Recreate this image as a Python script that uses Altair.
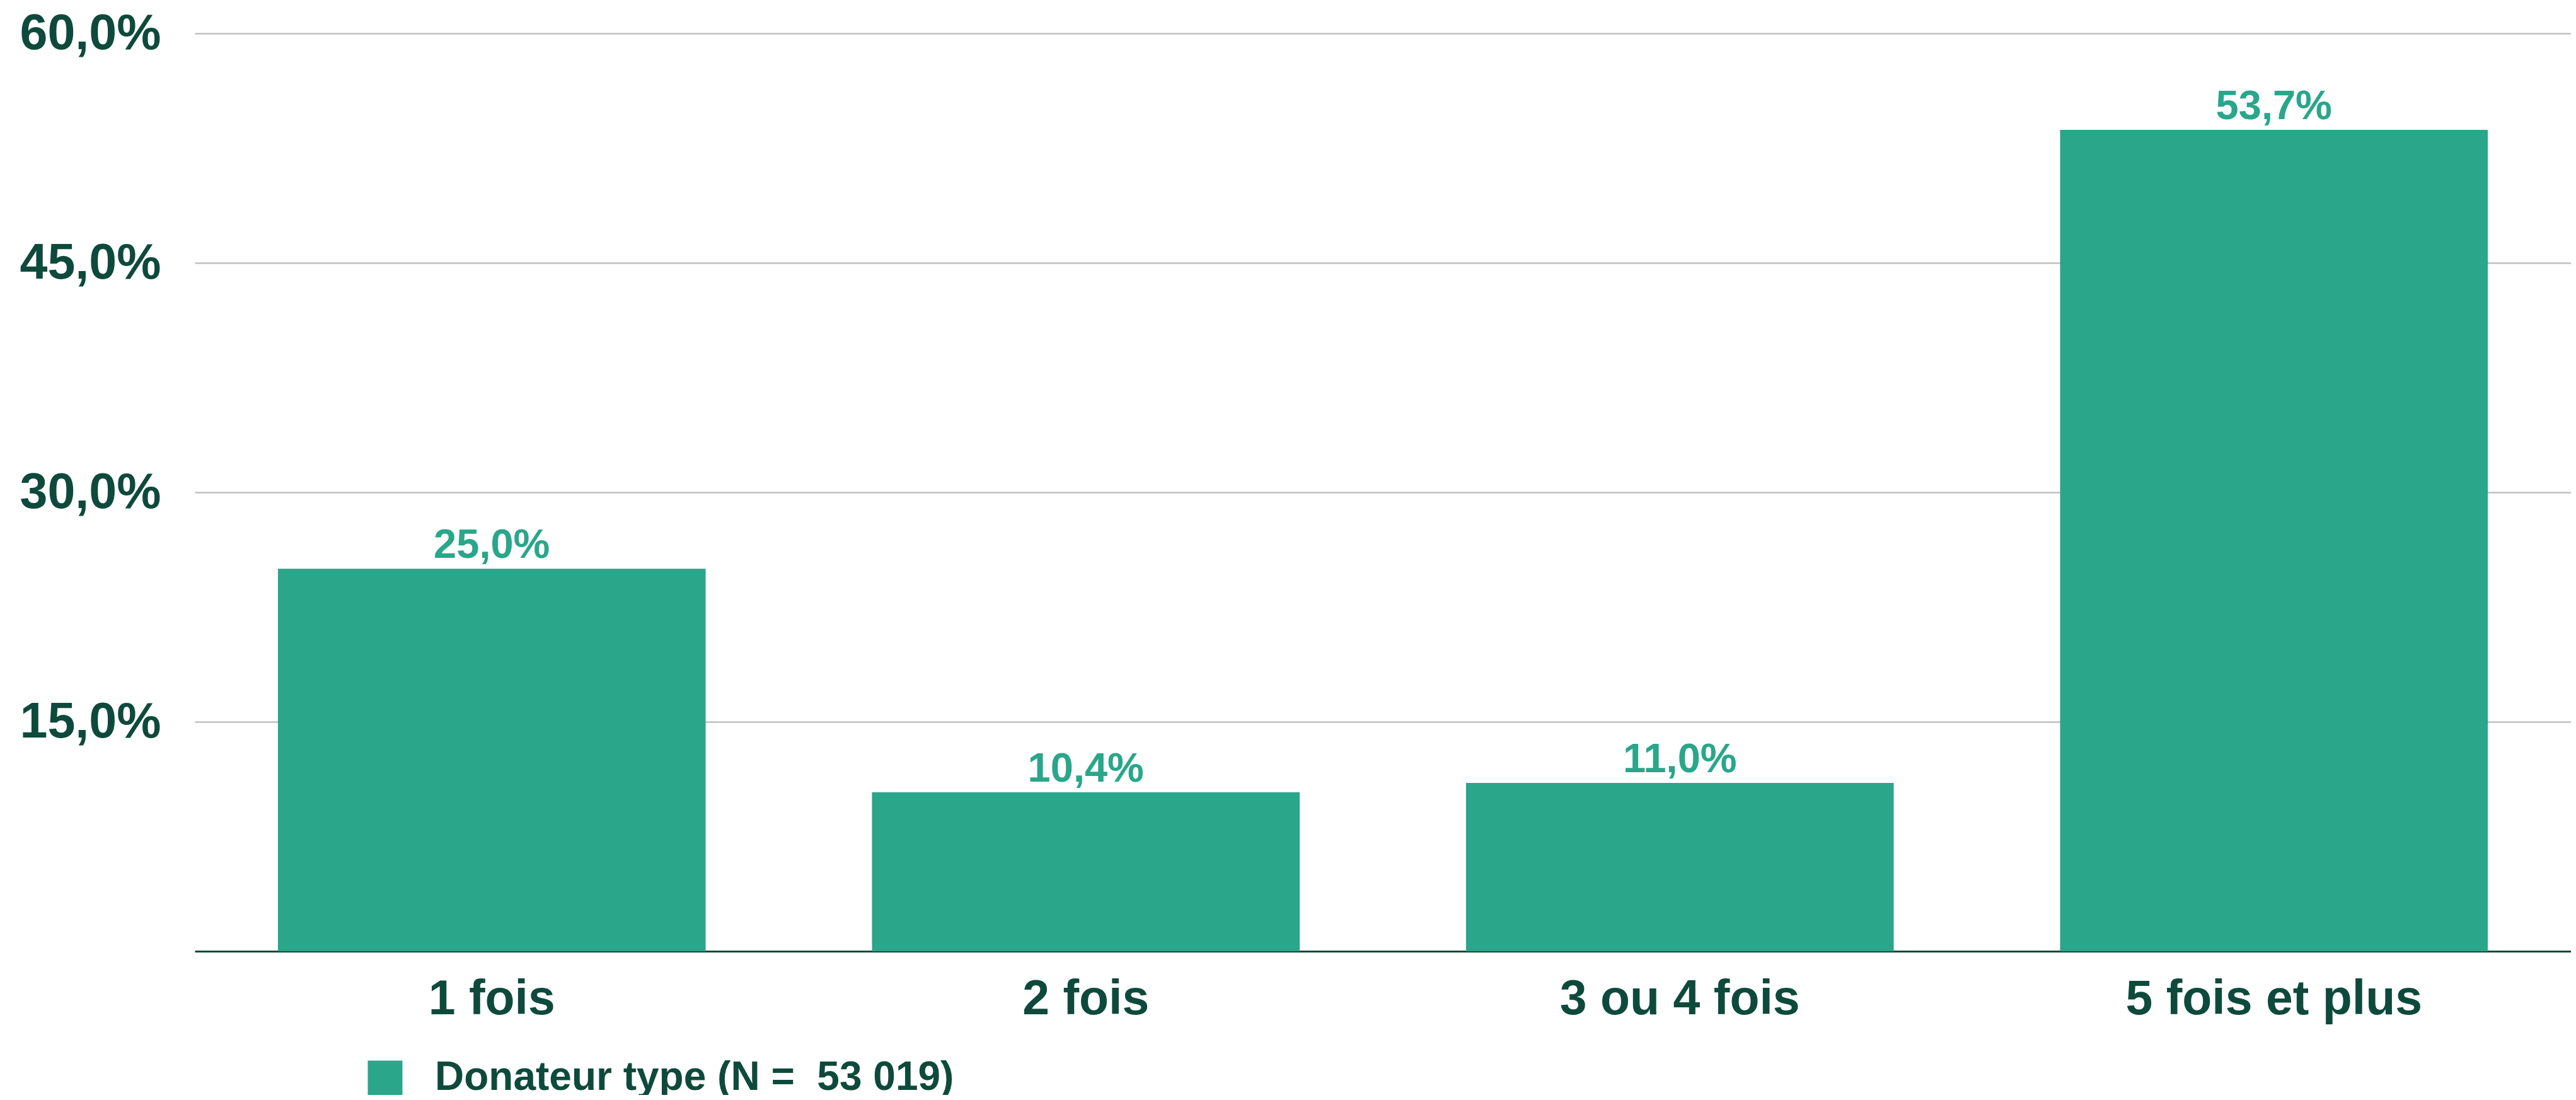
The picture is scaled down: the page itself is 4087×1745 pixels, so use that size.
import altair as alt
import pandas as pd

categories = ["1 fois", "2 fois", "3 ou 4 fois", "5 fois et plus"]
values = [25.0, 10.4, 11.0, 53.7]
series_name = "Donateur type (N =\u00a0 53 019)"
y_ticks = [15, 30, 45, 60]

df = pd.DataFrame({"cat": categories, "val": values, "serie": [series_name] * len(categories)})

DARK = "#0e4a3b"
GREEN = "#2aa68a"
GRID = "#c0c0c0"
FONT = "Liberation Sans"

x_enc = alt.X(
    "cat:N", sort=categories, title=None,
    scale=alt.Scale(paddingInner=0.28, paddingOuter=0.14),
    axis=alt.Axis(labelAngle=0, labelFont=FONT, labelFontSize=77, labelFontWeight="bold",
                  labelColor=DARK, ticks=False, labelPadding=38, domainColor=DARK,
                  domainWidth=3, grid=False, labelLimit=0),
)
y_enc = alt.Y("val:Q", scale=alt.Scale(domain=[0, 60]), title=None,
              axis=alt.Axis(values=y_ticks,
                            labelExpr="replace(format(datum.value, '.1f'), '.', ',') + '%'",
                            labelFont=FONT, labelFontSize=79, labelFontWeight="bold",
                            labelColor=DARK, ticks=False, domain=False, labelPadding=54,
                            grid=True, gridColor=GRID, gridWidth=2.5, labelLimit=0))

bars = alt.Chart(df).mark_bar(fillOpacity=1).encode(
    x=x_enc,
    y=y_enc,
    color=alt.Color("serie:N", scale=alt.Scale(range=[GREEN]),
                    legend=alt.Legend(orient="none", legendX=270, legendY=1625, title=None,
                                      symbolType="square", symbolSize=3025, symbolStrokeWidth=0,
                                      labelFont=FONT, labelFontSize=64, labelFontWeight="bold",
                                      labelColor=DARK, labelOffset=47, padding=0, labelLimit=0)),
)

labels = alt.Chart(df).transform_calculate(
    lab="replace(format(datum.val, '.1f'), '.', ',') + '%'"
).mark_text(font=FONT, fontSize=65, fontWeight="bold", color=GREEN,
            baseline="alphabetic", dy=-17).encode(
    x=x_enc,
    y=y_enc,
    text="lab:N",
)

chart = alt.layer(bars, labels).properties(
    width=3770, height=1456,
    background="white",
    autosize=alt.AutoSizeParams(type="none"),
    padding={"left": 301, "top": 45, "right": 0, "bottom": 228},
).configure_view(
    strokeWidth=0, stroke="transparent"
)

chart.save("out.html", embed_options={"renderer": "svg", "actions": False})
